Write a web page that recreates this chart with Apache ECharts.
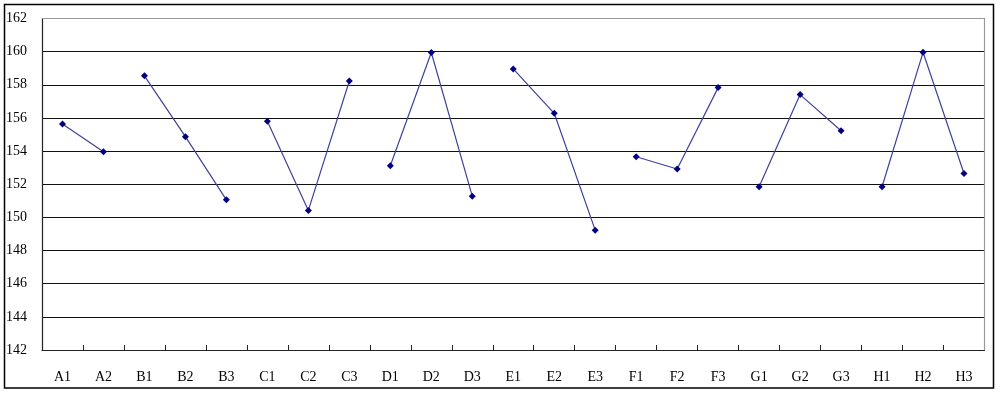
<!DOCTYPE html>
<html>
<head>
<meta charset="utf-8">
<script src="https://cdn.jsdelivr.net/npm/echarts@6/dist/echarts.min.js"></script>
<style>html,body{margin:0;padding:0;background:#fff}#c{width:1000px;height:393px}</style>
</head>
<body>
<div id="c"></div>
<script>
const categories = ['A1','A2','B1','B2','B3','C1','C2','C3','D1','D2','D3','E1','E2','E3','F1','F2','F3','G1','G2','G3','H1','H2','H3'];
const groupA = [155.64, 153.96];
const groupB = [158.54, 154.87, 151.06];
const groupC = [155.8, 150.42, 158.23];
const groupD = [153.12, 159.95, 151.28];
const groupE = [158.96, 156.28, 149.23];
const groupF = [153.66, 152.92, 157.83];
const groupG = [151.85, 157.41, 155.23];
const groupH = [151.85, 159.96, 152.65];
const groups = [['A', groupA], ['B', groupB], ['C', groupC], ['D', groupD], ['E', groupE], ['F', groupF], ['G', groupG], ['H', groupH]];

const font = '"Liberation Serif", "DejaVu Serif", serif';
const series = groups.map(([g, vals]) => {
  const data = categories.map(c => {
    if (c[0] !== g) return null;
    const i = parseInt(c.slice(1), 10) - 1;
    return vals[i];
  });
  return {
    type: 'line', name: g, data: data, connectNulls: false,
    symbol: 'diamond', symbolSize: 7,
    itemStyle: { color: '#000080' },
    lineStyle: { color: '#40409c', width: 1.2 },
    animation: false
  };
});

const chart = echarts.init(document.getElementById('c'), null, { renderer: 'canvas' });
chart.setOption({
  backgroundColor: '#fff',
  animation: false,
  graphic: [{
    type: 'rect', shape: { x: 4.5, y: 4.5, width: 989, height: 383.5 },
    style: { fill: null, stroke: '#000', lineWidth: 1.5 }, silent: true, z: 100
  }, {
    type: 'polyline', shape: { points: [[42, 18.5], [984.5, 18.5], [984.5, 350]] },
    style: { stroke: '#999', lineWidth: 1.2, fill: null }, silent: true, z: 50
  }],
  grid: { left: 42, right: 15.5, top: 18.5, bottom: 43, containLabel: false },
  xAxis: {
    type: 'category', data: categories, boundaryGap: true,
    axisLine: { lineStyle: { color: '#222', width: 1.2 } },
    axisTick: { show: true, inside: true, length: 5, lineStyle: { color: '#222' } },
    axisLabel: { color: '#000', fontFamily: font, fontSize: 14, margin: 20 },
    splitLine: { show: false }
  },
  yAxis: {
    type: 'value', min: 142, max: 162, interval: 2,
    axisLine: { show: true, lineStyle: { color: '#222', width: 1.2 } },
    axisTick: { show: false },
    axisLabel: { color: '#000', fontFamily: font, fontSize: 14, margin: 15 },
    splitLine: { show: true, showMaxLine: false, lineStyle: { color: '#111', width: 1.2 } }
  },
  series: series
});
</script>
</body>
</html>
